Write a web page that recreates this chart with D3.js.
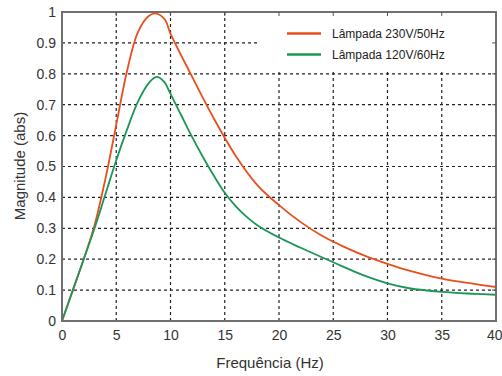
<!DOCTYPE html>
<html><head><meta charset="utf-8">
<script src="https://cdn.jsdelivr.net/npm/d3@7"></script>
<style>body{margin:0;background:#fff}svg{display:block;font-family:"Liberation Sans",Arial,sans-serif}</style>
</head><body>
<svg id="c" width="502" height="376"></svg>
<script>
const xTicks = [0,5,10,15,20,25,30,35,40];
const yTicks = [0,0.1,0.2,0.3,0.4,0.5,0.6,0.7,0.8,0.9,1];
const yTickLabels = ["0","0.1","0.2","0.3","0.4","0.5","0.6","0.7","0.8","0.9","1"];
const seriesNames = ["Lâmpada 230V/50Hz","Lâmpada 120V/60Hz"];
const freq230 = [0,1,2,3,4,5,6,7,8,8.7,9.5,10,12,14,16,18,20,22,24,26,28,30,32,35,38,40];
const mag230  = [0,0.1,0.2,0.31,0.46,0.635,0.81,0.935,0.987,0.995,0.975,0.93,0.79,0.655,0.535,0.44,0.375,0.32,0.275,0.24,0.21,0.185,0.163,0.137,0.12,0.11];
const freq120 = [0,1,2,3,4,5,6,7,8,8.7,9.4,10,11,12,13,14,15,16,17,18,20,22,25,28,30,32,35,38,40];
const mag120  = [0,0.1,0.2,0.3,0.41,0.52,0.62,0.71,0.77,0.79,0.775,0.735,0.665,0.595,0.53,0.47,0.415,0.372,0.338,0.31,0.27,0.237,0.19,0.145,0.122,0.106,0.094,0.088,0.085];
const colors = ["#e84f1c","#1b9656"];

const svg = d3.select("#c");
const L=62,R=496,T=12,B=321;
const x = d3.scaleLinear().domain([0,40]).range([L,R]);
const y = d3.scaleLinear().domain([0,1]).range([B,T]);

// grid
const g = svg.append("g");
g.selectAll(".vg").data(xTicks.slice(1,-1)).join("line")
  .attr("x1",d=>x(d)).attr("x2",d=>x(d)).attr("y1",B).attr("y2",T)
  .attr("stroke","#222").attr("stroke-width",1.2).attr("stroke-dasharray","3,3");
g.selectAll(".hg").data(yTicks.slice(1,-1)).join("line")
  .attr("x1",L).attr("x2",R).attr("y1",d=>y(d)).attr("y2",d=>y(d))
  .attr("stroke","#222").attr("stroke-width",1.2).attr("stroke-dasharray","3,3");

// curves
const line = d3.line().x(d=>x(d[0])).y(d=>y(d[1])).curve(d3.curveCatmullRom.alpha(0.5));
const data = [d3.zip(freq230,mag230), d3.zip(freq120,mag120)];
svg.selectAll(".curve").data(data).join("path")
  .attr("d",line).attr("fill","none").attr("stroke",(d,i)=>colors[i]).attr("stroke-width",1.8);

// legend box
const lg = svg.append("g");
lg.append("rect").attr("x",257).attr("y",T+1).attr("width",R-257-1).attr("height",58).attr("fill","#fff");
seriesNames.forEach((n,i)=>{
  const yy = 33.5 + i*21;
  lg.append("line").attr("x1",287).attr("x2",321).attr("y1",yy).attr("y2",yy).attr("stroke",colors[i]).attr("stroke-width",2.5);
  lg.append("text").attr("x",332).attr("y",yy+4).attr("font-size",12).attr("fill","#222").text(n);
});

// axes frame
svg.append("rect").attr("x",L).attr("y",T).attr("width",R-L).attr("height",B-T)
  .attr("fill","none").attr("stroke","#707070").attr("stroke-width",2);

// axes ticks
const xa = svg.append("g").attr("transform",`translate(0,${B})`)
  .call(d3.axisBottom(x).tickValues(xTicks).tickSize(0).tickPadding(9).tickFormat(d3.format("d")));
const ya = svg.append("g").attr("transform",`translate(${L},0)`)
  .call(d3.axisLeft(y).tickValues(yTicks).tickSize(0).tickPadding(6).tickFormat((d,i)=>yTickLabels[i]));
[xa,ya].forEach(a=>{a.select(".domain").remove();a.selectAll("text").attr("font-size",14).attr("fill","#333").attr("font-family","Liberation Sans, Arial, sans-serif");});
xa.selectAll(".tick").filter(d=>d===40).select("text").attr("text-anchor","end").attr("dx","6");
// right/top small inward ticks
svg.selectAll(".rt").data(yTicks.slice(1,-1)).join("line")
  .attr("x1",R-4).attr("x2",R).attr("y1",d=>y(d)).attr("y2",d=>y(d)).attr("stroke","#555");
svg.selectAll(".tt").data(xTicks.slice(1,-1)).join("line")
  .attr("x1",d=>x(d)).attr("x2",d=>x(d)).attr("y1",T).attr("y2",T+4).attr("stroke","#555");

svg.append("text").attr("x",270).attr("y",368).attr("text-anchor","middle").attr("font-size",15).attr("fill","#333").text("Frequência  (Hz)");
svg.append("text").attr("transform","translate(25,166) rotate(-90)").attr("text-anchor","middle").attr("font-size",15).attr("fill","#333").text("Magnitude (abs)");
</script>
</body></html>
